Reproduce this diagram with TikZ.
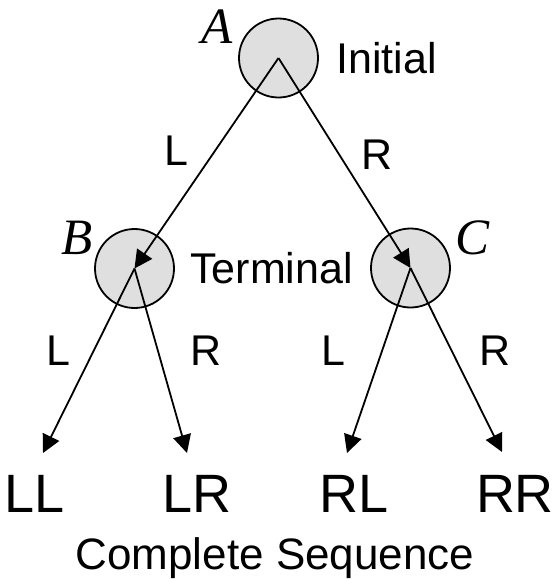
\documentclass[tikz,border=0pt]{standalone}
\usepackage{fontspec}
\setmainfont{Liberation Sans}
\newfontfamily\statefont{Liberation Serif}
\usetikzlibrary{arrows.meta}
\tikzset{
  statecirc/.style={circle, draw=black, line width=1.8pt, fill=gray!25, minimum size=79pt, inner sep=0pt},
  branch/.style={line width=1.8pt, -{Triangle[length=18pt 0, width=18pt 0]}},
  lbl/.style={anchor=base, inner sep=0pt, font=\fontsize{43}{50}\selectfont},
  seqlbl/.style={anchor=base, inner sep=0pt, font=\fontsize{54}{60}\selectfont},
  statename/.style={anchor=base, inner sep=0pt, font=\statefont\itshape\fontsize{51}{56}\selectfont},
}
\begin{document}
\begin{tikzpicture}[x=1pt, y=-1pt]
  \useasboundingbox (0,0) rectangle (553,579);

  % states
  \node[statecirc] (A) at (278.5,58) {};
  \node[statecirc] (B) at (134.5,268.5) {};
  \node[statecirc] (C) at (410.5,268) {};

  % state names and roles
  \node[statename] (nA) at (217,43) {A};
  \node[statename] (nB) at (77,254) {B};
  \node[statename] (nC) at (472.5,254) {C};
  \node[lbl] (init) at (386.5,73) {Initial};
  \node[lbl] (term) at (271.5,283) {Terminal};

  % end points of the outcome arrows
  \coordinate (tLL) at (43,453);
  \coordinate (tLR) at (187,453);
  \coordinate (tRL) at (347,453);
  \coordinate (tRR) at (502,452);

  % transitions
  \draw[branch] (A.center) -- (B.center);
  \draw[branch] (A.center) -- (C.center);
  \draw[branch] (B.center) -- (tLL);
  \draw[branch] (B.center) -- (tLR);
  \draw[branch] (C.center) -- (tRL);
  \draw[branch] (C.center) -- (tRR);

  % branch labels
  \node[lbl] (l1) at (176.5,165) {L};
  \node[lbl] (r1) at (377,169) {R};
  \node[lbl] (l2) at (58.5,365) {L};
  \node[lbl] (r2) at (206,365) {R};
  \node[lbl] (l3) at (333.5,365) {L};
  \node[lbl] (r3) at (495,365) {R};

  % outcomes
  \node[seqlbl] (LL) at (35,512) {LL};
  \node[seqlbl] (LR) at (197,512) {LR};
  \node[seqlbl] (RL) at (354,512) {RL};
  \node[seqlbl] (RR) at (515,512) {RR};
  \node[anchor=base, inner sep=0pt, font=\fontsize{44}{50}\selectfont] (cs) at (275,569) {Complete Sequence};
\end{tikzpicture}
\end{document}
